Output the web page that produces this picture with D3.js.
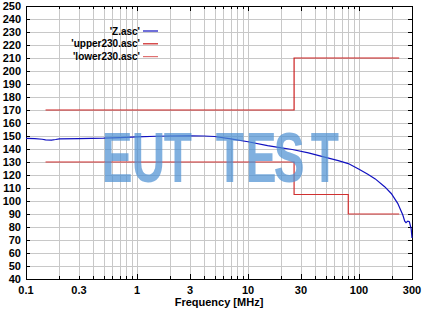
<!DOCTYPE html>
<html><head><meta charset="utf-8">
<script src="https://cdn.jsdelivr.net/npm/d3@7"></script>
<style>
html,body{margin:0;padding:0;background:#fff;}
svg{display:block;}
text{font-family:"Liberation Sans",Arial,sans-serif;font-weight:bold;}
</style></head>
<body>
<script>
// ---- data ----
const zFreq = [0.1,0.12,0.14,0.15,0.17,0.185,0.2,0.3,0.5,0.7,1,1.5,2,3,4,5,7,10,15,20,25,35,50,65,80,100,120,140,170,195,223,248,258,265,275,284,290,295,300];
const zVals = [148.2,148.0,147.5,147.0,146.9,147.3,147.8,148.0,148.3,148.8,149.3,149.8,150.0,150.2,150.0,149.6,147.8,145.6,142.6,140.8,139.6,137.0,133.5,131.0,128.8,124.5,120.5,117.0,111.0,105.8,98.2,89.2,84.5,83.3,84.5,84.0,81.0,78.5,71.5];
const upperFreq = [0.15,26,26,230];
const upperVals = [170,170,210,210];
const lowerFreq = [0.15,26,26,80,80,230];
const lowerVals = [130,130,105,105,90,90];
const yTicks = d3.range(40,251,10);
const xTickLabels = [0.1,0.3,1,3,10,30,100,300];
const legendNames = ["'Z.asc'","'upper230.asc'","'lower230.asc'"];
const legendColors = ["#1010c0","#cc2020","#e07070"];
const xTitle = "Frequency [MHz]";
const watermark = "EUT TEST";

const W=429,H=311;
const svg=d3.select("body").append("svg").attr("width",W).attr("height",H);
const L=26,R=412,T=6,B=279;
const x=d3.scaleLog().domain([0.1,300]).range([L,R]);
const y=d3.scaleLinear().domain([40,250]).range([B,T]);

const xMinor=[];
[0.1,1,10,100].forEach(d=>{for(let k=1;k<10;k++){const v=d*k; if(v>0.1&&v<300) xMinor.push(v);}});

// grid
const g=svg.append("g");
g.selectAll(".vg").data(xMinor).enter().append("line")
 .attr("x1",d=>Math.round(x(d))+0.5).attr("x2",d=>Math.round(x(d))+0.5)
 .attr("y1",T).attr("y2",B).attr("stroke","#c8c8c8").attr("stroke-width",1);
g.selectAll(".hg").data(yTicks.filter(d=>d>40&&d<250)).enter().append("line")
 .attr("y1",d=>Math.round(y(d))+0.5).attr("y2",d=>Math.round(y(d))+0.5)
 .attr("x1",L).attr("x2",R).attr("stroke","#c8c8c8").attr("stroke-width",1);

// frame
svg.append("rect").attr("x",L+0.5).attr("y",T+0.5).attr("width",R-L).attr("height",B-T)
 .attr("fill","none").attr("stroke","#000").attr("stroke-width",1);

// ticks
const tk=svg.append("g").attr("stroke","#000").attr("stroke-width",1);
yTicks.forEach(v=>{const yy=Math.round(y(v))+0.5;
 tk.append("line").attr("x1",L).attr("x2",L+4).attr("y1",yy).attr("y2",yy);
 tk.append("line").attr("x1",R-4).attr("x2",R).attr("y1",yy).attr("y2",yy);});
xMinor.concat([0.1,300]).forEach(v=>{const xx=Math.round(x(v))+0.5;
 const major=xTickLabels.includes(v); const len=major?5:3;
 tk.append("line").attr("x1",xx).attr("x2",xx).attr("y1",B-len).attr("y2",B);
 tk.append("line").attr("x1",xx).attr("x2",xx).attr("y1",T).attr("y2",T+len);});

// axis labels
svg.append("g").selectAll("text").data(yTicks).enter().append("text")
 .attr("x",21).attr("y",d=>y(d)+4).attr("text-anchor","end")
 .attr("font-size",11).attr("fill","#000").text(d=>d);
svg.append("g").selectAll("text").data(xTickLabels).enter().append("text")
 .attr("x",d=>x(d)).attr("y",294).attr("text-anchor","middle")
 .attr("font-size",11).attr("fill","#000").text(d=>d);
svg.append("text").attr("x",219).attr("y",306).attr("text-anchor","middle")
 .attr("font-size",11).attr("fill","#000").text(xTitle);

// lines
const line=d3.line().x(d=>x(d[0])).y(d=>y(d[1]));
svg.append("path").datum(upperFreq.map((f,i)=>[f,upperVals[i]])).attr("d",line)
 .attr("fill","none").attr("stroke","#cc2020").attr("stroke-width",1.2);
svg.append("path").datum(lowerFreq.map((f,i)=>[f,lowerVals[i]])).attr("d",line)
 .attr("fill","none").attr("stroke","#d03030").attr("stroke-width",1.2);
svg.append("path").datum(zFreq.map((f,i)=>[f,zVals[i]])).attr("d",line)
 .attr("fill","none").attr("stroke","#1010c0").attr("stroke-width",1.2);

// legend
const lg=svg.append("g");
legendNames.forEach((n,i)=>{const yy=31+i*12.8;
 lg.append("text").attr("x",140).attr("y",yy+3.5).attr("text-anchor","end")
  .attr("font-size",10).attr("fill","#000").text(n);
 lg.append("line").attr("x1",143).attr("x2",158).attr("y1",yy).attr("y2",yy)
  .attr("stroke",legendColors[i]).attr("stroke-width",1.2);});

// watermark: one text, letters placed individually, horizontally condensed
const sx=0.66, x0=103;
const letterX=[103,133,165,null,217,247,275,312];
const wm=svg.append("text").attr("transform",`translate(${x0},182) scale(${sx},1)`)
 .attr("font-family","'DejaVu Sans Condensed','DejaVu Sans',sans-serif").attr("font-weight","bold")
 .attr("font-size",70).attr("fill","#4f92d2").attr("fill-opacity",0.72);
watermark.split("").forEach((c,i)=>{ if(c===" ") return;
 wm.append("tspan").attr("x",(letterX[i]-x0)/sx - 2).text(c);});
</script>
</body></html>
